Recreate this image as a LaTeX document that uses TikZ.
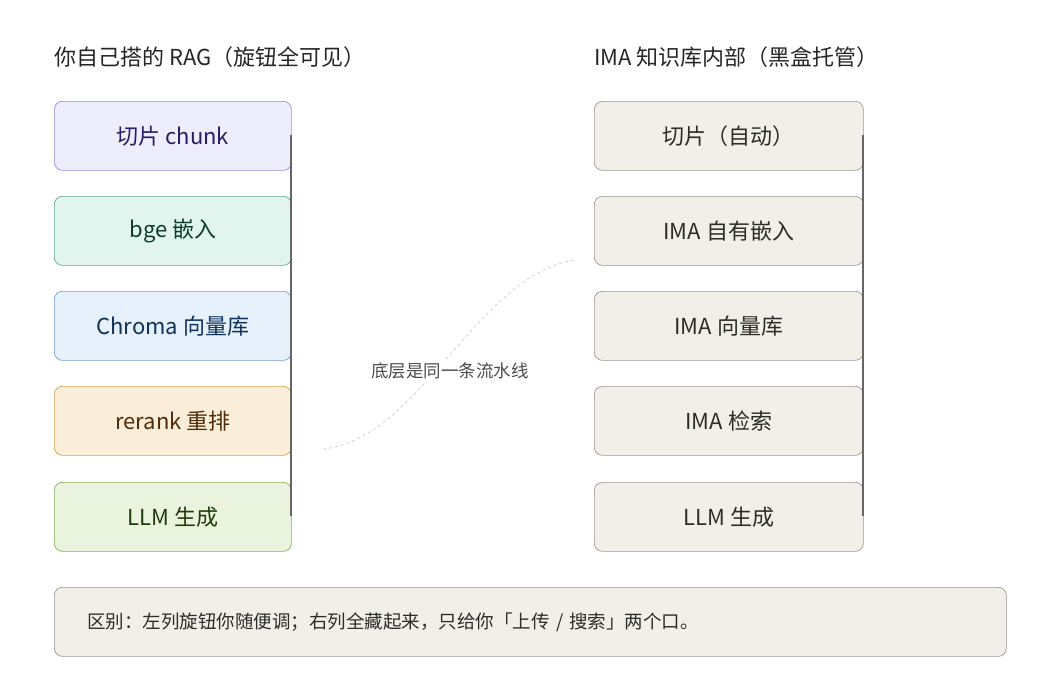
\documentclass[tikz,border=0pt]{standalone}
\usepackage{fontspec}
\setmainfont{Noto Sans CJK SC}
\begin{document}
\begin{tikzpicture}[x=1pt,y=-1pt,
 box/.style={draw,rounded corners=8pt,line width=0.7pt,minimum height=69pt,font=\fontsize{22}{24}\selectfont,anchor=north west,inner sep=0pt},
 lbox/.style={box,minimum width=237pt},
 rbox/.style={box,minimum width=269pt,fill=gbg,draw=gbd,text=gtx},
 spine/.style={draw=black!60,line width=1.4pt}]
\definecolor{gbg}{HTML}{F1EFE8}\definecolor{gbd}{HTML}{9A988F}\definecolor{gtx}{HTML}{2C2C2A}
\useasboundingbox (0,0) rectangle (1061,681);
\node[anchor=west,inner sep=0pt,font=\fontsize{22}{24}\selectfont,text=black!85] (t1) at (54,57) {你自己搭的 RAG（旋钮全可见）};
\node[anchor=west,inner sep=0pt,font=\fontsize{22}{24}\selectfont,text=black!85] (t2) at (594,57) {IMA 知识库内部（黑盒托管）};
\node[lbox,fill={rgb,255:red,238;green,237;blue,254},draw={rgb,255:red,150;green,140;blue,220},text={rgb,255:red,40;green,30;blue,100}] (l1) at (54,101) {切片 chunk};
\node[lbox,fill={rgb,255:red,225;green,245;blue,238},draw={rgb,255:red,95;green,170;blue,138},text={rgb,255:red,10;green,60;blue,45}] (l2) at (54,196) {bge 嵌入};
\node[lbox,fill={rgb,255:red,230;green,241;blue,251},draw={rgb,255:red,110;green,160;blue,215},text={rgb,255:red,15;green,50;blue,90}] (l3) at (54,291) {Chroma 向量库};
\node[lbox,fill={rgb,255:red,250;green,238;blue,218},draw={rgb,255:red,210;green,160;blue,80},text={rgb,255:red,80;green,45;blue,10}] (l4) at (54,386) {rerank 重排};
\node[lbox,fill={rgb,255:red,234;green,243;blue,222},draw={rgb,255:red,135;green,175;blue,95},text={rgb,255:red,30;green,60;blue,10}] (l5) at (54,482) {LLM 生成};
\node[rbox] (r1) at (594,101) {切片（自动）};
\node[rbox] (r2) at (594,196) {IMA 自有嵌入};
\node[rbox] (r3) at (594,291) {IMA 向量库};
\node[rbox] (r4) at (594,386) {IMA 检索};
\node[rbox] (r5) at (594,482) {LLM 生成};
\coordinate (a1) at (291,135);\coordinate (a2) at (291,516);
\coordinate (b1) at (863,135);\coordinate (b2) at (863,516);
\draw[spine] (a1)--(a2);
\draw[spine] (b1)--(b2);
\coordinate (c1) at (323,449);\coordinate (c2) at (577,260);
\draw[black!20,dashed,line width=0.7pt] (c1) .. controls (420,440) and (480,270) .. (c2);
\node[fill=white,inner sep=2pt,font=\fontsize{17.5}{19}\selectfont,text=black!70] (lab) at (450,371) {底层是同一条流水线};
\node[box,rbox,minimum width=952pt,text width=886pt,align=left,font=\fontsize{18.5}{20}\selectfont] (bot) at (54,587) {区别：左列旋钮你随便调；右列全藏起来，只给你「上传 / 搜索」两个口。};
\end{tikzpicture}
\end{document}
